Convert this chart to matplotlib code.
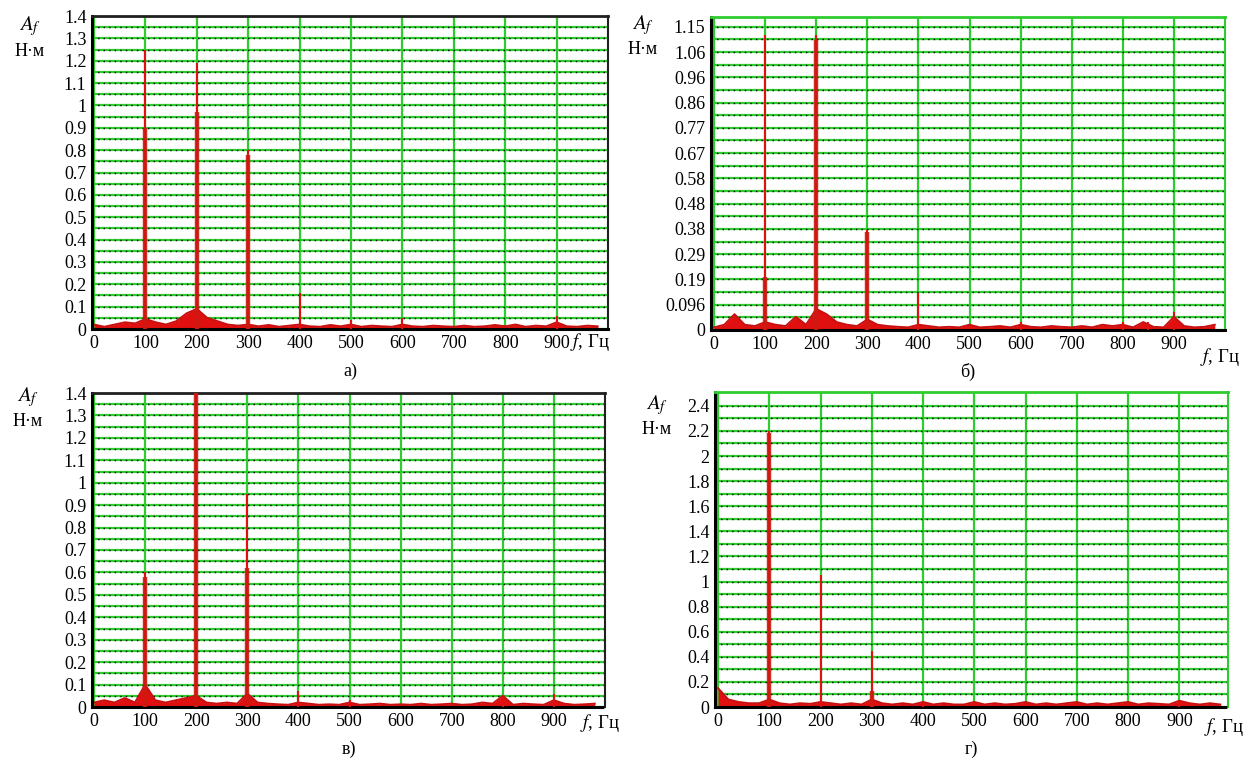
import numpy as np
import matplotlib.pyplot as plt

plt.rcParams['font.family'] = ['Liberation Serif', 'DejaVu Serif']
plt.rcParams['mathtext.fontset'] = 'stix'

W, H = 1252, 758

# noise floor, read every 20 Hz (0 .. 980)
freq = np.arange(0, 1000, 20)
floor_a = [0.02, 0.01, 0.02, 0.03, 0.025, 0.045, 0.03, 0.02, 0.035, 0.07,
           0.09, 0.05, 0.035, 0.02, 0.015, 0.02, 0.012, 0.018, 0.01, 0.015,
           0.02, 0.012, 0.01, 0.018, 0.012, 0.02, 0.01, 0.015, 0.012, 0.01,
           0.02, 0.012, 0.01, 0.015, 0.012, 0.01, 0.015, 0.01, 0.012, 0.018,
           0.012, 0.02, 0.01, 0.015, 0.012, 0.03, 0.012, 0.01, 0.015, 0.012]
floor_b = [0.01, 0.02, 0.06, 0.02, 0.015, 0.03, 0.02, 0.015, 0.05, 0.02,
           0.08, 0.06, 0.03, 0.02, 0.015, 0.04, 0.02, 0.015, 0.012, 0.01,
           0.02, 0.015, 0.01, 0.012, 0.01, 0.02, 0.01, 0.012, 0.015, 0.01,
           0.02, 0.012, 0.01, 0.015, 0.012, 0.01, 0.015, 0.01, 0.02, 0.015,
           0.02, 0.01, 0.03, 0.012, 0.01, 0.05, 0.015, 0.01, 0.012, 0.02]
floor_c = [0.02, 0.03, 0.02, 0.04, 0.02, 0.1, 0.03, 0.02, 0.03, 0.04,
           0.05, 0.02, 0.015, 0.02, 0.015, 0.06, 0.02, 0.015, 0.012, 0.01,
           0.02, 0.015, 0.01, 0.012, 0.01, 0.02, 0.01, 0.012, 0.015, 0.01,
           0.012, 0.01, 0.015, 0.01, 0.012, 0.015, 0.01, 0.012, 0.02, 0.015,
           0.05, 0.01, 0.015, 0.012, 0.01, 0.03, 0.015, 0.01, 0.012, 0.015]
floor_d = [0.15, 0.06, 0.04, 0.03, 0.03, 0.06, 0.03, 0.02, 0.03, 0.025,
           0.04, 0.03, 0.02, 0.03, 0.02, 0.06, 0.03, 0.02, 0.03, 0.02,
           0.04, 0.02, 0.03, 0.02, 0.02, 0.04, 0.02, 0.03, 0.02, 0.025,
           0.04, 0.02, 0.03, 0.02, 0.03, 0.04, 0.02, 0.03, 0.02, 0.03,
           0.04, 0.02, 0.03, 0.025, 0.02, 0.05, 0.03, 0.02, 0.03, 0.02]

# harmonics: frequency, peak amplitude, amplitude of the thick lower part
peaks_a_f = [100, 200, 300, 400, 500, 600, 900]
peaks_a_top = [1.25, 1.19, 0.80, 0.16, 0.04, 0.05, 0.06]
peaks_a_body = [0.90, 0.97, 0.78, 0.0, 0.0, 0.0, 0.0]
peaks_b_f = [100, 200, 300, 400, 600, 800, 850, 900]
peaks_b_top = [1.12, 1.12, 0.38, 0.14, 0.03, 0.03, 0.03, 0.07]
peaks_b_body = [0.20, 1.10, 0.37, 0.0, 0.0, 0.0, 0.0, 0.0]
peaks_c_f = [100, 200, 300, 400, 500, 800, 900]
peaks_c_top = [0.60, 1.40, 0.95, 0.07, 0.03, 0.05, 0.06]
peaks_c_body = [0.58, 1.40, 0.62, 0.0, 0.0, 0.0, 0.0]
peaks_d_f = [100, 200, 300, 400, 900]
peaks_d_top = [2.20, 1.05, 0.45, 0.05, 0.05]
peaks_d_body = [2.18, 0.0, 0.13, 0.0, 0.0]

ticks_ac = np.round(np.arange(0, 1.41, 0.1), 1)
labels_ac = ['%g' % t for t in ticks_ac]
labels_b = ['0', '0.096', '0.19', '0.29', '0.38', '0.48', '0.58', '0.67',
            '0.77', '0.86', '0.96', '1.06', '1.15']
ticks_b = np.arange(len(labels_b)) * 1.15 / 12
ticks_d = np.round(np.arange(0, 2.41, 0.2), 1)
labels_d = ['%g' % t for t in ticks_d]
xticks = np.arange(0, 901, 100)

GREEN = '#2ecc2e'
RED = '#e01010'


def axes_px(left, top, right, bottom):
    return [left / W, 1 - bottom / H, (right - left) / W, (bottom - top) / H]


def panel(rect, floor, pf, ptop, pbody, yticks, ylabels, ylim, xlim,
          top_color, letter, ylab_xy, flab_xy):
    ax = fig.add_axes(axes_px(*rect))
    ax.set_xlim(*xlim)
    ax.set_ylim(*ylim)
    ax.set_xticks(xticks)
    ax.set_yticks(yticks, labels=ylabels)
    ax.set_yticks((np.asarray(yticks[:-1]) + np.asarray(yticks[1:])) / 2,
                  minor=True)
    ax.tick_params(which='both', length=0, labelsize=13, pad=4)
    ax.grid(which='major', color=GREEN, lw=1.6, zorder=0)
    ax.grid(which='minor', axis='y', color=GREEN, lw=1.6, zorder=0)
    for y in list(ax.get_yticks()) + list(ax.get_yticks(minor=True)):
        ax.axhline(y, color='black', lw=1.0, ls=(0, (1, 3)), zorder=1)
    ax.set_axisbelow(True)

    ax.fill_between(freq, 0, floor, color=RED, lw=0, zorder=2)
    ax.plot(freq, floor, color='#c81010', lw=1.4, zorder=2)
    ax.vlines(pf, 0, ptop, color=RED, lw=1.5, zorder=3)
    ax.vlines(pf, 0, pbody, color='#cc1a10', lw=3.2, alpha=0.9, zorder=3)

    for s in ['left', 'bottom']:
        ax.spines[s].set_color('black')
        ax.spines[s].set_linewidth(2.2)
        ax.spines[s].set_linestyle((0, (1, 1)))
    ax.spines['top'].set_color(top_color)
    ax.spines['top'].set_linewidth(2)
    ax.spines['right'].set_color(top_color)
    ax.spines['right'].set_linewidth(1.5)

    cx = (rect[0] + rect[2]) / 2
    fig.text(cx / W, 1 - (rect[3] + 42) / H, letter, ha='center', va='center',
             fontsize=13)
    fig.text(ylab_xy[0] / W, 1 - ylab_xy[1] / H, r'$A_f$', ha='center',
             va='center', fontsize=15)
    fig.text(ylab_xy[0] / W, 1 - (ylab_xy[1] + 25) / H, 'Н·м', ha='center',
             va='center', fontsize=13)
    fig.text(flab_xy[0] / W, 1 - flab_xy[1] / H, r'$f$, Гц', ha='center',
             va='center', fontsize=13.5)
    return ax


fig = plt.figure(figsize=(W / 100, H / 100), dpi=100)

panel((92, 16, 608, 329), floor_a, peaks_a_f, peaks_a_top, peaks_a_body,
      ticks_ac, labels_ac, (0, 1.4), (-4, 1000), '#202020', 'а)',
      (30, 26), (590, 342))
panel((711, 17, 1225, 330), floor_b, peaks_b_f, peaks_b_top, peaks_b_body,
      ticks_b, labels_b, (0, 1.187), (-6, 1000), GREEN, 'б)',
      (643, 25), (1220, 357))
panel((92, 393, 605, 707), floor_c, peaks_c_f, peaks_c_top, peaks_c_body,
      ticks_ac, labels_ac, (0, 1.4), (-4, 1000), '#202020', 'в)',
      (28, 397), (600, 723))
panel((715, 392, 1228, 707), floor_d, peaks_d_f, peaks_d_top, peaks_d_body,
      ticks_d, labels_d, (0, 2.51), (-6, 995), GREEN, 'г)',
      (657, 405), (1224, 727))

fig.savefig('out.png', dpi=100)
